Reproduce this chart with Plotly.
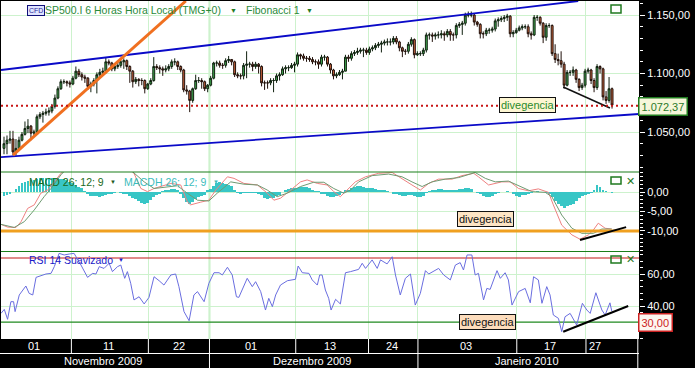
import plotly.graph_objects as go
from plotly.subplots import make_subplots

closes = [1040,1043,1044,1033,1036,1043,1048,1053,1055,1049,
1050,1063,1065,1066,1067,1068,1072,1079,1087,1093,
1093,1092,1091,1096,1102,1099,1097,1096,1089,1091,
1094,1099,1101,1102,1110,1109,1104,1106,1107,1110,
1111,1106,1102,1093,1095,1094,1094,1087,1091,1094,
1106,1105,1104,1103,1104,1106,1110,1110,1106,1103,
1086,1085,1077,1087,1094,1094,1093,1087,1090,1096,
1109,1109,1107,1107,1111,1112,1110,1099,1098,1098,
1107,1108,1108,1106,1108,1106,1092,1092,1092,1094,
1094,1098,1099,1104,1105,1105,1107,1108,1116,1115,
1113,1113,1112,1110,1110,1108,1114,1114,1108,1103,
1098,1099,1101,1102,1114,1113,1117,1118,1119,1120,
1120,1118,1121,1122,1124,1125,1126,1127,1127,1127,
1130,1127,1122,1119,1119,1125,1129,1116,1117,1117,
1120,1133,1133,1132,1133,1133,1134,1133,1136,1133,
1133,1141,1142,1143,1150,1150,1150,1144,1142,1134,
1134,1137,1137,1138,1145,1146,1147,1148,1149,1134,
1135,1137,1139,1140,1140,1134,1133,1148,1148,1143,
1131,1141,1141,1117,1112,1111,1108,1090,1101,1101,
1103,1095,1088,1090,1102,1103,1094,1088,1106,1104,1080,1077,1087,1073]
opens = [1036,1040,1043,1044,1033,1036,1043,1048,1053,1055,
1049,1050,1063,1065,1066,1067,1068,1072,1079,1087,
1093,1093,1092,1091,1096,1102,1099,1097,1096,1089,
1091,1094,1099,1101,1102,1110,1109,1104,1106,1107,
1110,1111,1106,1102,1093,1095,1094,1094,1087,1091,
1094,1106,1105,1104,1103,1104,1106,1110,1110,1106,
1103,1086,1085,1077,1087,1094,1094,1093,1087,1090,
1096,1109,1109,1107,1107,1111,1112,1110,1099,1098,
1098,1107,1108,1108,1106,1108,1106,1092,1092,1092,
1094,1094,1098,1099,1104,1105,1105,1107,1108,1116,
1115,1113,1113,1112,1110,1110,1108,1114,1114,1108,
1103,1098,1099,1101,1102,1114,1113,1117,1118,1119,
1120,1120,1118,1121,1122,1124,1125,1126,1127,1127,
1127,1130,1127,1122,1119,1119,1125,1129,1116,1117,
1117,1120,1133,1133,1132,1133,1133,1134,1133,1136,
1133,1133,1141,1142,1143,1150,1150,1150,1144,1142,
1134,1134,1137,1137,1138,1145,1146,1147,1148,1149,
1134,1135,1137,1139,1140,1140,1134,1133,1148,1148,
1143,1131,1141,1141,1117,1112,1111,1108,1090,1101,
1101,1103,1095,1088,1090,1102,1103,1094,1088,1106,1104,1080,1077,1087]
highs = [1046,1047,1051,1051,1044,1046,1050,1059,1061,1056,
1052,1065,1067,1068,1070,1071,1074,1082,1089,1095,
1095,1094,1094,1098,1106,1104,1101,1099,1097,1093,
1096,1101,1104,1105,1114,1112,1110,1108,1110,1113,
1113,1112,1107,1103,1097,1096,1096,1095,1092,1096,
1114,1108,1107,1106,1107,1108,1112,1113,1111,1107,
1104,1090,1086,1088,1099,1097,1096,1094,1091,1098,
1110,1111,1111,1109,1113,1115,1112,1111,1101,1100,
1109,1119,1110,1110,1110,1109,1107,1094,1094,1096,
1096,1100,1101,1106,1107,1107,1109,1110,1118,1117,
1117,1115,1115,1114,1112,1112,1116,1116,1115,1109,
1104,1101,1103,1104,1116,1116,1119,1120,1122,1122,
1122,1122,1123,1124,1126,1127,1128,1129,1130,1130,
1132,1132,1128,1123,1121,1127,1131,1130,1119,1119,
1122,1135,1135,1135,1135,1136,1137,1136,1138,1138,
1135,1143,1144,1145,1152,1153,1153,1151,1145,1143,
1136,1139,1139,1140,1147,1148,1149,1150,1151,1150,
1137,1139,1141,1142,1142,1142,1136,1150,1150,1149,
1144,1143,1143,1142,1125,1117,1119,1110,1103,1103,
1106,1104,1096,1092,1104,1105,1104,1096,1108,1107,1105,1085,1097,1088]
lows = [1031,1031,1040,1030,1030,1035,1042,1047,1049,1043,
1046,1049,1061,1058,1064,1064,1066,1070,1078,1086,
1091,1089,1088,1090,1095,1097,1094,1092,1086,1084,
1089,1083,1097,1099,1100,1107,1102,1102,1104,1105,
1104,1103,1092,1088,1091,1089,1090,1083,1086,1090,
1093,1103,1100,1098,1101,1102,1104,1107,1103,1101,
1084,1082,1067,1075,1086,1092,1087,1085,1084,1089,
1095,1106,1105,1104,1105,1109,1107,1097,1096,1095,
1095,1096,1105,1102,1104,1100,1089,1086,1087,1090,
1084,1092,1094,1098,1100,1102,1104,1101,1106,1112,
1111,1110,1110,1108,1107,1104,1106,1111,1106,1100,
1095,1096,1098,1095,1102,1110,1111,1115,1116,1117,
1114,1116,1116,1119,1120,1122,1118,1124,1124,1124,
1125,1125,1119,1114,1116,1117,1123,1113,1115,1115,
1115,1118,1129,1127,1129,1130,1130,1128,1131,1128,
1128,1130,1139,1133,1141,1148,1148,1141,1140,1130,
1130,1132,1134,1135,1136,1140,1144,1144,1145,1131,
1131,1134,1136,1137,1138,1131,1129,1132,1145,1141,
1126,1128,1139,1115,1109,1107,1105,1087,1089,1098,
1098,1092,1085,1086,1088,1100,1091,1084,1086,1100,1077,1074,1075,1070]

macdh = [-1.0,-0.8,-0.4,0,0.7,1.5,2.4,2.6,2.8,3.0,3.2,3.4,3.5,3.5,3.5,3.6,3.6,3.6,3.5,3.4,
3.3,3.1,2.6,2.2,1.7,1.2,0.9,0.2,-0.3,-0.9,-1.0,-1.1,-1.2,-1.1,-0.8,-0.6,-0.3,-0.1,0,-0.1,
-0.4,-0.6,-0.9,-1.5,-1.9,-2.4,-2.9,-3.0,-2.7,-2.0,-1.4,-0.8,-0.3,0.2,0.5,0.6,0.7,0.7,0.4,-0.3,
-1.6,-2.5,-3.0,-2.5,-1.8,-1.4,-1.0,-0.7,0.3,0.7,1.5,2.3,2.5,2.3,2.0,1.9,1.6,0.5,-0.2,-0.4,
-0.2,-0.2,-0.2,-0.1,-0.1,-0.3,-0.8,-1.5,-1.8,-1.6,-1.5,-1.1,-0.7,0,0.3,0.7,0.9,1.0,1.1,1.2,
1.3,1.3,1.0,0.6,0.2,0.1,-0.3,-0.6,-1.0,-1.3,-1.4,-1.0,-0.7,-0.2,0.4,0.4,0.9,1.3,1.5,1.5,
1.2,1.1,1.0,0.9,0.8,0.6,0.5,0.4,0.2,0,-0.3,-0.4,-0.8,-1.0,-0.9,-0.8,-0.7,-0.9,-1.2,-1.2,
-0.9,-0.2,0.2,0.5,0.6,0.7,0.7,0.5,0.5,0.4,0.4,0.5,0.8,0.8,1.0,1.1,0.8,0,-0.1,-0.5,
-1.1,-1.2,-1.2,-1.0,-0.5,-0.2,0,0,0.1,0,-0.6,-1.1,-1.2,-0.8,-0.7,-0.5,-0.2,0,0.1,0,
0,-0.1,-0.3,-1.2,-2.2,-3.0,-3.6,-4.0,-3.7,-3.4,-3.0,-2.4,-1.5,-1.0,-0.7,-0.5,-0.2,0.3,1.8,1.2,
0.6,0.2,0,-0.1]

macd_x = [0,2.2,5,6.7,8.9,11.1,13.3,15.6,17.8,20,22,25,35,42,44.4,46.7,48.9,51.1,56.7,60,62.2,63.3,66.7,69.4,71.7,75.6,77.8,81.1,85.6,88.9,91.1,93.3,96.7,100,102.2,105.6,108.9,111.1,113.3,116.7,
118.3,121.7,126.1,130.6,133.9,137.2,140,142.8,146.1,150.6,153.9,157.8,159.4,162.8,167.2,170,172.8,176.1,179.4,182.8,184.4,187.2,190.6,193.3,196.1,197.8,199.4,201.7,203.9]
macd_line = [-8.3,-9,-9.1,-7.6,-4.2,-3.3,-0.3,0.5,2.6,4.8,6,8,9,6.5,4.8,0.9,0.1,0.9,2.2,1.8,-2.5,-3.3,-2.6,-2.1,0.5,3.9,3.5,2.2,1.8,-0.3,-2.1,-1.6,0.5,2.6,3.1,2.2,1.8,0.1,-1.2,1.4,
2.6,3.9,4.8,5,3.5,1.8,0.5,2.2,3.3,3.3,4.2,4.8,3.9,1.8,2.6,2.6,0.9,0.3,0.8,-0.1,-3.3,-8.5,-11,-12.1,-11,-9.7,-8,-9.3,-9.5]
signal_x = [0,4.4,7.8,11.1,14.4,16.7,20,22,30,35,42,44.4,47.8,51.1,55.6,58.9,62.2,65.6,69.4,72.2,76.7,81.1,85.6,88.9,92.2,95.6,100,104.4,107.8,111.1,114.4,116.7,
119.4,123.9,129.4,133.9,137.2,140.6,143.9,148.3,152.8,158.3,161.7,165,169.4,172.8,177.2,181.7,183.9,187.2,190.6,193.9,197.8,200.6,203.9]
signal_line = [-8.3,-9.1,-7.6,-4.6,-1.2,0.9,4.4,6,6.5,8,6.5,4.8,2.6,0.9,1.4,1.6,-0.3,-2.1,-2.3,-0.3,2.6,2,1.8,0.5,-1.2,-0.3,1.4,2.5,2.5,0.9,-0.3,0.5,
2.6,4.2,4.6,3.9,2.6,1.4,2.6,3.3,3.7,5,3.5,2.6,2.8,1.6,0.1,-0.1,-1.2,-5.9,-9.3,-10.6,-10.6,-9.5,-9.5]

rsi_x = [0,1.1,2.2,3.3,4.2,4.7,6.1,8.3,9.4,10.6,11.7,13.3,15,16.7,17.8,19.4,21.1,22.8,24.4,26.7,28.9,30.6,31.7,32.8,34.4,36.1,37.2,38.9,40,41.3,42.2,43.3,44.4,46.1,47.8,49.4,51.1,52.8,54.4,56.7,58.3,59.4,61.1,62.8,64.4,65.6,67.8,69.4,71.1,72.8,73.9,75.6,77.2,78.6,79.4,82.2,83.9,85,86.7,88.3,89.4,90.6,91.7,93.3,95.6,98.3,99.2,100.6,101.7,102.8,103.9,105.6,106.4,107.2,108.3,109.4,110.2,111.7,113.3,115,116.7,
119.4,120.6,121.7,123.9,125.6,126.7,128.9,130.6,131.7,133.3,135,136.7,138.3,140,141.7,142.8,146.1,147.8,150,151.7,153.3,154.4,155.6,157.2,158.3,159.4,161.1,162.2,163.3,165.6,166.7,168.3,169.4,170.6,172.8,175,176.7,177.8,179.4,180.6,182.2,183.3,184.4,186.1,187.2,188.3,190,192.2,194.1,195.6,196.7,198.6,200.6,201.7,203.3,203.9]
rsi = [35.4,37.9,31.7,42.7,42.7,36.5,46.9,52.5,47.9,46.9,57.9,58.8,60,60.4,64.6,72.9,71.9,72.5,72.9,65.6,57.9,60.4,60,64.6,63.5,66.7,61.5,64.6,65.6,57.3,61.5,54.2,43.8,45.8,41.3,45.4,58.3,55.8,53.1,59.4,60,52.1,36.5,30.8,46.9,49,42.7,54.2,60.8,60.8,59.4,64.2,59.4,45.8,45.4,57.3,52.1,55.2,49,37.5,44.8,39.6,46.9,53.1,55.8,56.7,65,60.8,60.4,60.4,56.3,53.1,59.4,59.4,50,44.8,37.5,44.2,41.3,60.8,61.5,
62.9,66.7,63.5,68.8,63.5,68.8,66.3,70.8,59.4,46.9,57.3,60,40.6,47.9,62.1,60,63.5,59.4,56.3,65.6,67.1,62.5,71.9,71.9,59.4,60.4,43.8,51,50.4,62.1,57.3,60.8,56.3,40.6,49,51,42,58.3,56.3,41.7,52.1,46.9,34.4,32.3,24,33.3,35.4,28.1,41.7,37.5,35.4,48.3,37.5,34.4,42,36.9]

price_ticks = [1050, 1100, 1150]
price_labels = ["1.050,00", "1.100,00", "1.150,00"]
macd_ticks = [-10, -5, 0]
macd_labels = ["-10,00", "-5,00", "0,00"]
rsi_ticks = [40, 60]
rsi_labels = ["40,00", "60,00"]
last_price = 1072.37
macd_level = -10
rsi_upper = 70
rsi_lower = 30

upper_channel = ([0, 192.7], [1103, 1162])
lower_channel = ([0, 213], [1028.6, 1065.4])
orange_trend = ([4, 61.7], [1030.3, 1162])
price_div = ([187.7, 203.3], [1088.5, 1070.5])
macd_div = ([193.3, 208.7], [-12.3, -9.0])
rsi_div = ([187.7, 209.4], [23.9, 40])

day_lines = [23.5, 49.2, 69.6, 98.4, 122.7, 139.2, 172.2, 195.3]
day_pos = [11, 36, 59.3, 83.3, 110, 130.6, 155.2, 183.3, 198.3]
day_labels = ["01", "11", "22", "01", "13", "24", "03", "17", "27"]
month_lines = [69.6, 139.2, 212.6]
month_pos = [34, 103.9, 175.6]
month_labels = ["Novembro 2009", "Dezembro 2009", "Janeiro 2010"]

W, H = 695, 368
X = lambda p: p / W
Y = lambda p: 1 - p / H
FONT = "Liberation Sans"
GRID = "#cdf2cd"
DARK = "#1f7a1f"

bars = list(range(1, len(closes) + 1))
fig = make_subplots(rows=3, cols=1, shared_xaxes=True, vertical_spacing=0)

fig.add_trace(go.Candlestick(x=bars, open=opens, high=highs, low=lows, close=closes, whiskerwidth=0,
    increasing=dict(line=dict(color="#10200f", width=1), fillcolor="#3fa84f"),
    decreasing=dict(line=dict(color="#20100a", width=1), fillcolor="#c9643c")), row=1, col=1)
for (tx, ty), col, w in [(upper_channel, "#0a0ac8", 1.8), (lower_channel, "#0a0ac8", 1.8),
                         (orange_trend, "#f07020", 3), (price_div, "#111111", 1.5)]:
    fig.add_trace(go.Scatter(x=tx, y=ty, mode="lines", line=dict(color=col, width=w)), row=1, col=1)
fig.add_trace(go.Scatter(x=[0, 213], y=[last_price, last_price], mode="lines",
    line=dict(color="#c81414", width=2, dash="2px,3px")), row=1, col=1)

fig.add_trace(go.Bar(x=bars, y=macdh, width=0.95, marker=dict(color="#38c6c6", line=dict(width=0))), row=2, col=1)
fig.add_trace(go.Scatter(x=macd_x, y=macd_line, mode="lines", line=dict(color="#ee8080", width=1)), row=2, col=1)
fig.add_trace(go.Scatter(x=signal_x, y=signal_line, mode="lines", line=dict(color="#6f9a72", width=1)), row=2, col=1)
fig.add_trace(go.Scatter(x=[0, 213], y=[macd_level, macd_level], mode="lines", line=dict(color="#f0a020", width=3)), row=2, col=1)
fig.add_trace(go.Scatter(x=macd_div[0], y=macd_div[1], mode="lines", line=dict(color="#000000", width=2)), row=2, col=1)

fig.add_trace(go.Scatter(x=[0, 213], y=[rsi_upper, rsi_upper], mode="lines", line=dict(color="#c01818", width=1.2)), row=3, col=1)
fig.add_trace(go.Scatter(x=[0, 213], y=[rsi_lower, rsi_lower], mode="lines", line=dict(color="#1f8a1f", width=1.2)), row=3, col=1)
fig.add_trace(go.Scatter(x=rsi_x, y=rsi, mode="lines", line=dict(color="#6a6ee0", width=1)), row=3, col=1)
fig.add_trace(go.Scatter(x=rsi_div[0], y=rsi_div[1], mode="lines", line=dict(color="#000000", width=2)), row=3, col=1)

yax = dict(side="right", color="white", showline=False, ticks="outside", ticklen=5, tickcolor="white", tickwidth=1,
           gridcolor=GRID, gridwidth=1, zeroline=False, tickfont=dict(family=FONT, size=11, color="white"),
           ticklabelposition="outside")
fig.update_layout(
    width=W, height=H, margin=dict(l=0, r=0, t=0, b=0), autosize=False, showlegend=False,
    paper_bgcolor="black", plot_bgcolor="white", bargap=0, boxgap=0.1, hovermode=False,
    xaxis=dict(domain=[X(1), X(639)], range=[0, 213], tickvals=day_lines, showticklabels=False, ticks="",
               showgrid=True, gridcolor=GRID, zeroline=False, rangeslider=dict(visible=False)),
    xaxis2=dict(domain=[X(1), X(639)], range=[0, 213], tickvals=day_lines, showticklabels=False, ticks="",
                showgrid=True, gridcolor=GRID, zeroline=False),
    xaxis3=dict(domain=[X(1), X(639)], range=[0, 213], tickvals=day_lines, showticklabels=False, ticks="",
                showgrid=True, gridcolor=GRID, zeroline=False),
    yaxis=dict(yax, domain=[Y(172), Y(1)], range=[1015.8, 1162], tickvals=price_ticks, ticktext=price_labels,
               minor=dict(dtick=10, ticks="outside", ticklen=3, tickcolor="white", showgrid=False)),
    yaxis2=dict(yax, domain=[Y(251.5), Y(172)], range=[-15.26, 5.13], tickvals=macd_ticks, ticktext=macd_labels,
                minor=dict(dtick=1, ticks="outside", ticklen=3, tickcolor="white", showgrid=False)),
    yaxis3=dict(yax, domain=[Y(339), Y(251.5)], range=[19.4, 74.06], tickvals=rsi_ticks, ticktext=rsi_labels,
                minor=dict(dtick=4, ticks="outside", ticklen=3, tickcolor="white", showgrid=False)),
)

shapes = []
def line(x0, y0, x1, y1, color, width=1, xref="paper"):
    shapes.append(dict(type="line", xref=xref, yref="paper", x0=x0, y0=y0, x1=x1, y1=y1,
                       line=dict(color=color, width=width), layer="above"))
def rect(x0, y0, x1, y1, border, fill=None, width=1.5):
    shapes.append(dict(type="rect", xref="paper", yref="paper", x0=X(x0), y0=Y(y0), x1=X(x1), y1=Y(y1),
                       line=dict(color=border, width=width), fillcolor=fill or "rgba(0,0,0,0)", layer="above"))

line(X(1), Y(172), X(639), Y(172), "#1a7f1a", 1.2)
line(X(1), Y(251.5), X(639), Y(251.5), "#1a7f1a", 1.2)
line(X(0), Y(353.5), X(639), Y(353.5), "white", 1)
shapes.append(dict(type="line", xref="x", yref="paper", x0=69.6, y0=Y(1), x1=69.6, y1=Y(339),
                   line=dict(color="#c4f0c4", width=2), layer="below"))
for v in day_lines:
    line(v, Y(339), v, Y(353), "white", 1, xref="x")
for v in month_lines:
    line(v, Y(354), v, Y(368), "white", 1, xref="x")
line(212.6, Y(339), 212.6, Y(353), "white", 1, xref="x")
rect(611, 5, 621, 13, DARK)
rect(611, 177, 621, 184, DARK)
rect(611, 256, 621, 263, DARK)
fig.update_layout(shapes=shapes)

def label(px, py, text, color, size=11, anchor="left", **kw):
    fig.add_annotation(xref="paper", yref="paper", x=X(px), y=Y(py), text=text, showarrow=False, xanchor=anchor,
                       yanchor="middle", font=dict(family=FONT, size=size, color=color), **kw)

label(43, 10, "SP500.I 6 Horas Hora Local (TMG+0)", "#2a8a3a", 10.5)
label(228, 10, "▼", DARK, 7)
label(244, 10, "Fibonacci 1", "#2a8a3a", 10.5)
label(304, 10, "▼", DARK, 7)
label(27, 11, "CFD", "#2a2a9a", 7, bordercolor="#10107a", borderwidth=1, borderpad=1, bgcolor="#dfe4ff")
label(27, 182, "MACD 26; 12; 9", "#1a6a1a", 10.5)
label(108, 182, "▼", "#1a5a1a", 6)
label(122, 182, "MACDH 26; 12; 9", "#3cbcbc", 10.5)
label(211, 182, "▼", "#3cbcbc", 6)
label(27, 260, "RSI 14 Suavizado", "#1a1ac8", 10.5)
label(116, 260, "▼", "#1a1ac8", 6)
label(630, 181, "✕", DARK, 11, anchor="center")
label(630, 259, "✕", DARK, 11, anchor="center")

label(527, 105, "divegencia", "#2a8a2a", 11, anchor="center", bgcolor="#fdf6d2", bordercolor="#111111", borderwidth=1, borderpad=1)
label(485, 219, "divegencia", "#111111", 11, anchor="center", bgcolor="#fde4c4", bordercolor="#111111", borderwidth=1, borderpad=1)
label(487, 322, "divegencia", "#111111", 11, anchor="center", bgcolor="#fcdcbc", bordercolor="#111111", borderwidth=1, borderpad=1)
label(663, 106, "1.072,37", "#2a7a2a", 11, anchor="center", bgcolor="#f6f6da", bordercolor=DARK, borderwidth=1.5, borderpad=2)
label(655, 322, "30,00", "#cc2222", 11, anchor="center", bgcolor="#fdf6f0", bordercolor="#cc2222", borderwidth=1.5, borderpad=2)

for v, t in zip(day_pos, day_labels):
    fig.add_annotation(xref="x", yref="paper", x=v, y=Y(346), text=t, showarrow=False, yanchor="middle",
                       font=dict(family=FONT, size=11, color="white"))
for v, t in zip(month_pos, month_labels):
    fig.add_annotation(xref="x", yref="paper", x=v, y=Y(361), text=t, showarrow=False, yanchor="middle",
                       font=dict(family=FONT, size=11, color="white"))

fig.write_html("out.html", config={"displayModeBar": False},
               post_script="document.body.style.margin='0';document.documentElement.style.background='black';")
